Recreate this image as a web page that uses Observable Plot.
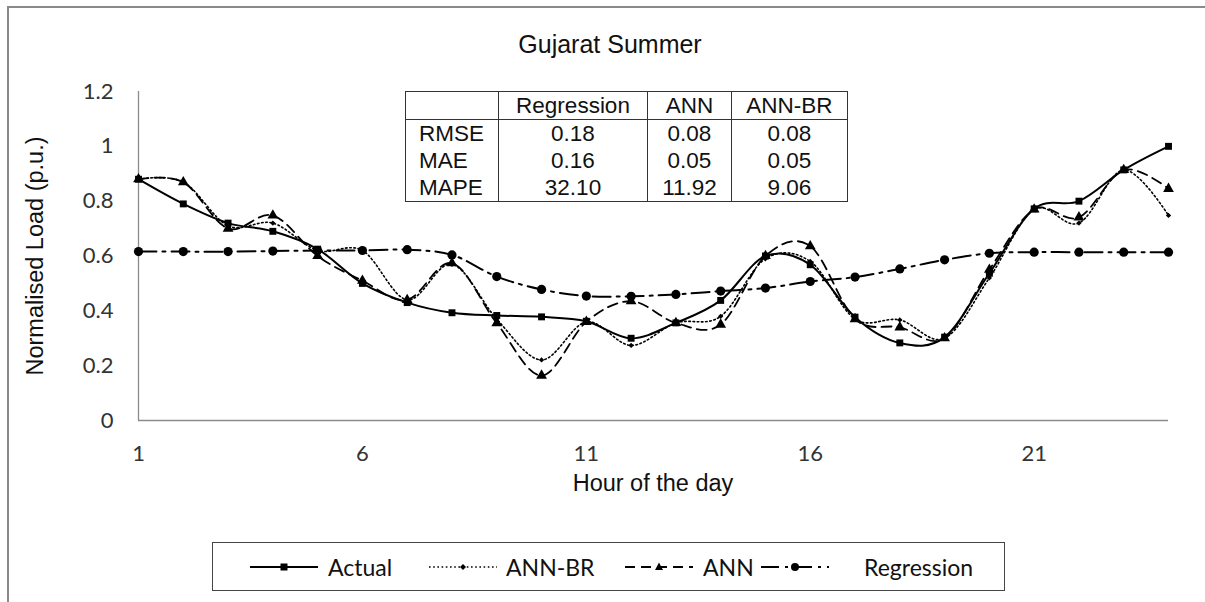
<!DOCTYPE html>
<html>
<head>
<meta charset="utf-8">
<script src="https://cdn.jsdelivr.net/npm/d3@7"></script>
<script src="https://cdn.jsdelivr.net/npm/@observablehq/plot@0.6"></script>
<style>
  html, body { margin: 0; padding: 0; background: #fff; }
  #wrap { position: relative; width: 1205px; height: 602px; overflow: hidden; background: #fff; }
  #frame { position: absolute; left: 7px; top: 6px; width: 1198px; height: 596px;
           border-top: 2px solid #8a8a8a; border-left: 2px solid #8a8a8a; box-sizing: border-box; }
  #chart { position: absolute; left: 0; top: 0; }
  #title { position: absolute; top: 30px; left: 410px; width: 400px; text-align: center;
           font-family: "Liberation Sans", Arial, sans-serif; font-size: 25px; color: #111; }
  #ytitle { position: absolute; left: 35px; top: 256px; transform: translate(-50%, -50%) rotate(-90deg);
            white-space: nowrap; font-family: "Liberation Sans", Arial, sans-serif; font-size: 23.5px; color: #111; }
  #xtitle { position: absolute; left: 653px; top: 483px; transform: translate(-50%, -50%);
            white-space: nowrap; font-family: "Liberation Sans", Arial, sans-serif; font-size: 23.5px; color: #111; }
  #stats { position: absolute; left: 405px; top: 91px; border-collapse: collapse; background: #fff;
           font-family: "Liberation Sans", Arial, sans-serif; font-size: 22.5px; color: #111; }
  #stats td { border-left: 1.5px solid #333; border-right: 1.5px solid #333; padding: 0; height: 27px;
              line-height: 27px; text-align: center; }
  #stats tr:first-child td { border-top: 1.5px solid #333; border-bottom: 1.5px solid #333; }
  #stats tr:last-child td { border-bottom: 1.5px solid #333; }
  #stats td.lab { text-align: left; padding-left: 13px; }
  #legend { position: absolute; left: 212px; top: 542px; width: 793px; height: 49px; box-sizing: border-box;
            border: 1.3px solid #444; background: #fff; }
  .li { position: absolute; top: 0; height: 47px; display: flex; align-items: center; }
  .lt { font-family: Lato, "Open Sans", sans-serif; font-size: 23px; color: #111; white-space: nowrap; }
</style>
</head>
<body>
<div id="wrap">
  <div id="frame"></div>
  <div id="chart"></div>
  <div id="title">Gujarat Summer</div>
  <div id="ytitle">Normalised Load (p.u.)</div>
  <div id="xtitle">Hour of the day</div>
  <table id="stats"></table>
  <div id="legend"></div>
</div>
<script>
// ---- data ----
const hours = [1,2,3,4,5,6,7,8,9,10,11,12,13,14,15,16,17,18,19,20,21,22,23,24];
const actual     = [0.88,0.79,0.72,0.69,0.625,0.50,0.43,0.393,0.383,0.378,0.362,0.30,0.356,0.438,0.60,0.568,0.377,0.283,0.304,0.537,0.772,0.80,0.914,1.0];
const annBR      = [0.88,0.87,0.71,0.72,0.62,0.62,0.44,0.57,0.37,0.221,0.36,0.274,0.356,0.38,0.59,0.58,0.37,0.367,0.30,0.52,0.77,0.72,0.914,0.748];
const ann        = [0.88,0.869,0.70,0.748,0.60,0.51,0.44,0.574,0.355,0.164,0.36,0.435,0.356,0.35,0.60,0.636,0.37,0.34,0.30,0.55,0.77,0.741,0.914,0.845];
const regression = [0.616,0.616,0.616,0.618,0.62,0.62,0.623,0.604,0.525,0.478,0.454,0.453,0.46,0.472,0.483,0.507,0.523,0.553,0.586,0.61,0.614,0.614,0.614,0.614];

const xTicks = [1,6,11,16,21];
const yTicks = [0,0.2,0.4,0.6,0.8,1.0,1.2];

const seriesNames = ["Actual","ANN-BR","ANN","Regression"];
const seriesValues = [actual, annBR, ann, regression];

const metricNames = ["RMSE","MAE","MAPE"];
const modelNames = ["Regression","ANN","ANN-BR"];
const regressionErr = ["0.18","0.16","32.10"];
const annErr = ["0.08","0.05","11.92"];
const annBRErr = ["0.08","0.05","9.06"];

// ---- styles per series ----
const styles = {
  "Actual":     {dash: null,          width: 2.0, symbol: "square",   r: 3.9},
  "ANN-BR":     {dash: "1.6,2.6",     width: 1.6, symbol: "diamond2", r: 2.4},
  "ANN":        {dash: "10,6",        width: 1.8, symbol: "triangle", r: 4.0},
  "Regression": {dash: "18,6,3,6",    width: 2.0, symbol: "circle",   r: 4.6}
};

const rows = [];
seriesNames.forEach((s, i) => hours.forEach((h, j) => rows.push({series: s, hour: h, value: seriesValues[i][j]})));

const marks = [
  Plot.ruleY([0], {stroke: "#8c8c8c", strokeWidth: 1.3}),
  Plot.ruleX([1], {y1: 0, y2: 1.2, stroke: "#8c8c8c", strokeWidth: 1.3}),
  Plot.axisX({ticks: xTicks, tickSize: 0, tickPadding: 25, fontSize: 22, fontFamily: "Lato", fill: "#333", label: null}),
  Plot.axisY({ticks: yTicks, tickSize: 0, tickPadding: 25, fontSize: 22, fontFamily: "Lato", fill: "#333", label: null,
              tickFormat: d => String(+d.toFixed(1))})
];
for (const s of ["Regression","ANN","ANN-BR","Actual"]) {
  const st = styles[s];
  const data = rows.filter(d => d.series === s);
  marks.push(Plot.line(data, {x: "hour", y: "value", curve: "cardinal", stroke: "#000",
                              strokeWidth: st.width, strokeDasharray: st.dash}));
  marks.push(Plot.dot(data, {x: "hour", y: "value", symbol: () => st.symbol, r: st.r, fill: "#000", stroke: "none"}));
}

const chart = Plot.plot({
  width: 1205, height: 500,
  marginLeft: 138, marginRight: 37, marginTop: 91, marginBottom: 80,
  x: {domain: [1, 24]},
  y: {domain: [0, 1.2]},
  symbol: {type: "identity"},
  style: {background: "transparent"},
  marks
});
document.getElementById("chart").appendChild(chart);

// ---- stats table ----
const tbl = document.getElementById("stats");
const widths = [92, 148, 83, 115];
let html = "<tr><td class='lab' style='width:" + (widths[0]-13) + "px'></td>";
modelNames.forEach((m, i) => html += "<td style='width:" + widths[i+1] + "px'>" + m + "</td>");
html += "</tr>";
metricNames.forEach((m, i) => {
  html += "<tr><td class='lab'>" + m + "</td><td>" + regressionErr[i] + "</td><td>" + annErr[i] + "</td><td>" + annBRErr[i] + "</td></tr>";
});
tbl.innerHTML = html;

// ---- legend ----
const legend = document.getElementById("legend");
const legendPos = [
  {lineX: 248, textX: 327},
  {lineX: 427, textX: 505},
  {lineX: 623, textX: 702},
  {lineX: 759, textX: 863}
];
const symbolPath = {
  square: "M-3.5,-3.5h7v7h-7z",
  diamond2: "M0,-3L3,0L0,3L-3,0z",
  triangle: "M0,-4.5L4,3L-4,3z",
  circle: null
};
seriesNames.forEach((s, i) => {
  const st = styles[s];
  const p = legendPos[i];
  const box = document.createElement("div");
  box.className = "li";
  box.style.left = (p.lineX - 212) + "px";
  const sw = document.createElementNS("http://www.w3.org/2000/svg", "svg");
  sw.setAttribute("width", 70); sw.setAttribute("height", 20);
  sw.innerHTML = `<line x1="1" x2="69" y1="10" y2="10" stroke="#000" stroke-width="${st.width}" ${st.dash ? `stroke-dasharray="${st.dash}"` : ""}/>` +
    (st.symbol === "circle" ? `<circle cx="35" cy="10" r="4" fill="#000"/>` :
     `<path transform="translate(35,10)" d="${symbolPath[st.symbol]}" fill="#000"/>`);
  box.appendChild(sw);
  const t = document.createElement("span");
  t.className = "lt";
  t.style.marginLeft = (p.textX - p.lineX - 70) + "px";
  t.textContent = s;
  box.appendChild(t);
  legend.appendChild(box);
});
</script>
</body>
</html>
